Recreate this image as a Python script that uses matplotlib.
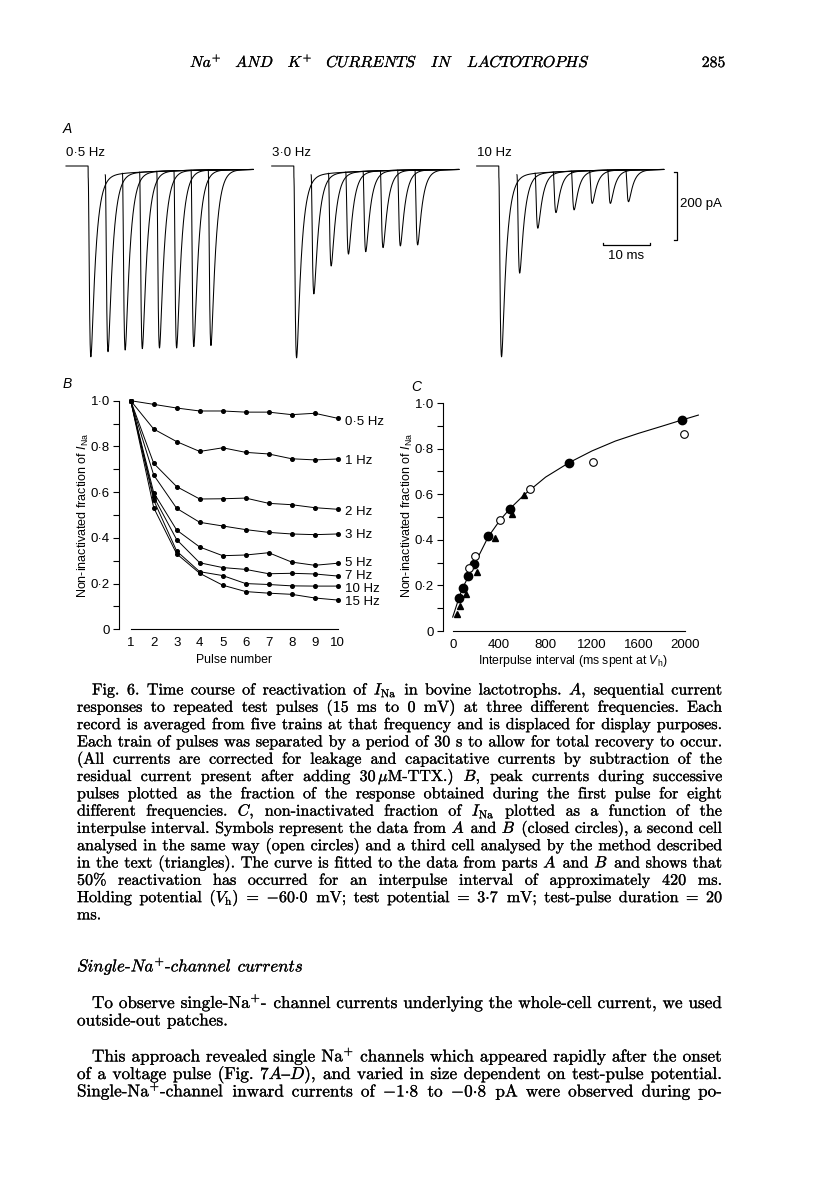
import numpy as np
import matplotlib.pyplot as plt
import matplotlib.patheffects as pe
from matplotlib.ticker import FixedLocator, FixedFormatter, MultipleLocator

W, H = 816, 1200
SANS = ['Liberation Sans', 'DejaVu Sans']
SERIF = ['cmr10', 'DejaVu Serif']

plt.rcParams['font.family'] = SANS
plt.rcParams['mathtext.fontset'] = 'custom'
plt.rcParams['mathtext.rm'] = 'Liberation Sans'
plt.rcParams['mathtext.it'] = 'Liberation Sans:italic'
plt.rcParams['axes.linewidth'] = 0.8

# ---------------- data ----------------
# A: peak inward current of each record (pA), 8 pulses per train
freq_a = ['0·5 Hz', '3·0 Hz', '10 Hz']
peak_05hz = [561, 546, 541, 537, 535, 535, 531, 528]
peak_3hz = [564, 376, 294, 259, 252, 240, 235, 232]
peak_10hz = [561, 315, 183, 137, 129, 110, 110, 105]
record_shift_ms = [3.65, 3.68, 3.86]   # display displacement between records

# B: fraction of first-pulse current
pulse_no = [1, 2, 3, 4, 5, 6, 7, 8, 9, 10]
b_05hz = [1.0, 0.984, 0.968, 0.955, 0.955, 0.950, 0.950, 0.939, 0.945, 0.923]
b_1hz = [1.0, 0.876, 0.821, 0.778, 0.794, 0.774, 0.767, 0.746, 0.741, 0.745]
b_2hz = [1.0, 0.726, 0.624, 0.570, 0.571, 0.574, 0.551, 0.545, 0.532, 0.525]
b_3hz = [1.0, 0.675, 0.529, 0.468, 0.452, 0.436, 0.424, 0.417, 0.414, 0.417]
b_5hz = [1.0, 0.598, 0.434, 0.360, 0.322, 0.325, 0.335, 0.294, 0.280, 0.289]
b_7hz = [1.0, 0.580, 0.392, 0.291, 0.270, 0.262, 0.243, 0.245, 0.242, 0.233]
b_10hz = [1.0, 0.565, 0.342, 0.252, 0.235, 0.200, 0.196, 0.190, 0.189, 0.189]
b_15hz = [1.0, 0.532, 0.330, 0.245, 0.193, 0.165, 0.158, 0.153, 0.137, 0.128]
b_labels = ['0·5 Hz', '1 Hz', '2 Hz', '3 Hz', '5 Hz', '7 Hz', '10 Hz', '15 Hz']

# C: recovery vs interpulse interval
closed_x = [54, 86, 135, 187, 307, 494, 1004, 1971]
closed_y = [0.145, 0.190, 0.240, 0.296, 0.418, 0.537, 0.739, 0.927]
open_x = [138, 195, 407, 663, 1205, 1991]
open_y = [0.277, 0.328, 0.486, 0.624, 0.742, 0.864]
tri_x = [34, 63, 115, 207, 364, 514, 617]
tri_y = [0.074, 0.109, 0.163, 0.260, 0.408, 0.514, 0.598]
fit_x = [0, 54, 86, 135, 187, 307, 407, 494, 617, 800, 1004, 1200, 1400, 1600, 1800, 1971, 2115]
fit_y = [0.061, 0.145, 0.190, 0.238, 0.292, 0.414, 0.486, 0.537, 0.598, 0.675, 0.739,
         0.790, 0.833, 0.867, 0.898, 0.925, 0.947]

# ---------------- text ----------------
header = [r'$\mathit{Na}^{+}$', r'$\mathit{AND}$', r'$\mathit{K}^{+}$',
          r'$\mathit{CURRENTS}$', r'$\mathit{IN}$', r'$\mathit{LACTOTROPHS}$']
caption = [
    r'Fig. 6. Time course of reactivation of $I_{\mathrm{Na}}$ in bovine lactotrophs. $A$, sequential current',
    r'responses to repeated test pulses (15 ms to 0 mV) at three different frequencies. Each',
    r'record is averaged from five trains at that frequency and is displaced for display purposes.',
    r'Each train of pulses was separated by a period of 30 s to allow for total recovery to occur.',
    r'(All currents are corrected for leakage and capacitative currents by subtraction of the',
    r'residual current present after adding 30$\,\mu$M-TTX.) $B$, peak currents during successive',
    r'pulses plotted as the fraction of the response obtained during the first pulse for eight',
    r'different frequencies. $C$, non-inactivated fraction of $I_{\mathrm{Na}}$ plotted as a function of the',
    r'interpulse interval. Symbols represent the data from $A$ and $B$ (closed circles), a second cell',
    r'analysed in the same way (open circles) and a third cell analysed by the method described',
    r'in the text (triangles). The curve is fitted to the data from parts $A$ and $B$ and shows that',
    r'50% reactivation has occurred for an interpulse interval of approximately 420 ms.',
    r'Holding potential ($V_{\mathrm{h}}$) = $-$60$\cdot$0 mV; test potential = 3$\cdot$7 mV; test-pulse duration = 20',
    r'ms.',
]
heading = r'$\mathit{Single}$-$\mathit{Na}^{+}$-$\mathit{channel}$ $\mathit{currents}$'
body = [
    r'To observe single-Na$^{+}$- channel currents underlying the whole-cell current, we used',
    r'outside-out patches.',
    r'This approach revealed single Na$^{+}$ channels which appeared rapidly after the onset',
    r'of a voltage pulse (Fig. 7$A{–}D$), and varied in size dependent on test-pulse potential.',
    r'Single-Na$^{+}$-channel inward currents of $-$1$\cdot$8 to $-$0$\cdot$8 pA were observed during po-',
]

fig = plt.figure(figsize=(W / 100, H / 100), dpi=100)
fig.patch.set_facecolor('white')


def box(x0, y0, x1, y1):
    return [x0 / W, 1 - y1 / H, (x1 - x0) / W, (y1 - y0) / H]


def ftext(x, y, s, **kw):
    return fig.text(x / W, 1 - y / H, s, **kw)


# ---------------- panel A ----------------
PX_MS = 4.7      # pixels per ms
PA_PX = 2.94     # pA per pixel
axA = fig.add_axes(box(60, 120, 700, 370))
axA.set_xlim((60 - 66) / PX_MS, (700 - 66) / PX_MS)
axA.set_ylim(-(370 - 166) * PA_PX, (166 - 120) * PA_PX)
axA.axis('off')

group_start = [0.0, 43.77, 87.38]
first_onset = 4.7
record_end = 39.8
tau_m, tau_h = 0.22, 1.0
t_pk = tau_m * np.log(1 + 3 * tau_h / tau_m)
norm = (1 - np.exp(-t_pk / tau_m)) ** 3 * np.exp(-t_pk / tau_h)


def shape(t):
    return np.where(t > 0, (1 - np.exp(-t / tau_m)) ** 3 * np.exp(-t / tau_h), 0.0) / norm


def tail(t):
    return 9 + 23 * np.exp(-t / 12.0)


for g, peaks in enumerate([peak_05hz, peak_3hz, peak_10hz]):
    t0 = group_start[g]
    on1 = t0 + first_onset
    for k, pk in enumerate(peaks):
        on = on1 + k * record_shift_ms[g]
        amp = pk - tail(on - on1 + t_pk)
        t = np.arange(on, t0 + record_end, 0.02)
        cur = -(amp * shape(t - on) + tail(t - on1))
        if k == 0:
            t = np.concatenate([[t0, on], t])
            cur = np.concatenate([[0.0, 0.0], cur])
        axA.plot(t, cur, color='k', lw=0.75)

# scale bars
xb = (676.7 - 66) / PX_MS
yb0, yb1 = -(171.7 - 166) * PA_PX, -(171.7 - 166) * PA_PX - 200
axA.plot([xb - 0.6, xb, xb, xb - 0.6], [yb0, yb0, yb1, yb1], color='k', lw=0.9)
xh0 = (602.7 - 66) / PX_MS
yh = -(245 - 166) * PA_PX
axA.plot([xh0, xh0, xh0 + 10, xh0 + 10], [yh + 5, yh, yh, yh + 5], color='k', lw=0.9)
ftext(680, 204, '200 pA', fontsize=9.5, va='center')
ftext(626, 256, '10 ms', fontsize=9.5, va='center', ha='center')

ftext(63, 129, 'A', fontsize=10, style='italic', va='center')
for lab, xpx in zip(freq_a, [66, 271.7, 476.7]):
    ftext(xpx, 153, lab, fontsize=9.5, va='center')

# ---------------- panel B ----------------
axB = fig.add_axes(box(119, 400.7, 345, 629.3))
axB.set_xlim(1 - 11.7 / 23, 1 + (345 - 130.7) / 23)
axB.set_ylim(0, 1)
label_y = [0.908, 0.738, 0.515, 0.413, 0.292, 0.235, 0.176, 0.118]
for ser, lab, ly in zip([b_05hz, b_1hz, b_2hz, b_3hz, b_5hz, b_7hz, b_10hz, b_15hz], b_labels, label_y):
    axB.plot(pulse_no, ser, color='k', lw=0.7, marker='o', ms=2.6, clip_on=False)
    axB.text(10.32, ly, lab, fontsize=9.5, va='center', clip_on=False)

# ---------------- panel C ----------------
PX_C = 232.3 / 2000
axC = fig.add_axes(box(443, 403, 720, 631))
axC.set_xlim((443 - 452.7) / PX_C, (720 - 452.7) / PX_C)
axC.set_ylim(0, 1)
axC.plot(fit_x, fit_y, color='k', lw=0.8, clip_on=False)
axC.plot(closed_x, closed_y, 'o', color='k', ms=6, clip_on=False)
axC.plot(open_x, open_y, 'o', mfc='white', mec='k', mew=0.8, ms=5.5, clip_on=False)
axC.plot(tri_x, tri_y, '^', color='k', ms=5, clip_on=False)

ylabels = ['0', '0·2', '0·4', '0·6', '0·8', '1·0']
for ax, xmax, xt in [(axB, 10, pulse_no), (axC, 2000, [0, 400, 800, 1200, 1600, 2000])]:
    for s in ['top', 'right']:
        ax.spines[s].set_visible(False)
    ax.spines['left'].set_bounds(0, 1)
    ax.spines['bottom'].set_bounds(xt[0], xmax)
    ax.yaxis.set_major_locator(FixedLocator([0, 0.2, 0.4, 0.6, 0.8, 1.0]))
    ax.yaxis.set_major_formatter(FixedFormatter(ylabels))
    ax.yaxis.set_minor_locator(MultipleLocator(0.1))
    ax.tick_params(axis='y', which='both', direction='out', length=4, width=0.8,
                   labelsize=9.5, pad=2.5)
    ax.set_xticks(xt)
    ax.set_xticklabels([str(v) for v in xt])
    ax.tick_params(axis='x', length=0, labelsize=9.5, pad=5.5)
    ax.patch.set_visible(False)

ylab = r'Non-inactivated fraction of $I_{\mathrm{Na}}$'
ftext(83, 515, ylab, fontsize=9, rotation=90, va='center', ha='center')
ftext(407, 515, ylab, fontsize=9, rotation=90, va='center', ha='center')
ftext(234, 660, 'Pulse number', fontsize=8.8, ha='center', va='center')
ftext(573, 661, r'Interpulse interval (ms spent at $V_{\mathrm{h}}$)', fontsize=8.8,
      ha='center', va='center')
ftext(63, 384, 'B', fontsize=10, style='italic', va='center')
ftext(411, 387, 'C', fontsize=10, style='italic', va='center')

# ---------------- page text ----------------
renderer = fig.canvas.get_renderer()
# drawing type as outlines keeps glyph widths equal to the measured ones
INK = [pe.withStroke(linewidth=0.18, foreground='k')]


def make_words(words, size):
    objs = [fig.text(0, 0, w, fontsize=size, family=SERIF, math_fontfamily='cm',
                     va='baseline', ha='left', path_effects=INK) for w in words]
    widths = [o.get_window_extent(renderer).width for o in objs]
    return objs, widths


def natural_width(line, size):
    objs, widths = make_words(line.split(' '), size)
    for o in objs:
        o.remove()
    return sum(widths) + 0.33 * size * 100 / 72 * (len(widths) - 1)


def set_line(line, x0, x1, ybase, size, justify=True):
    words = line.split(' ')
    objs, widths = make_words(words, size)
    gap = 0.33 * size * 100 / 72
    if justify and len(words) > 1:
        gap = (x1 - x0 - sum(widths)) / (len(words) - 1)
    x = x0
    for o, w in zip(objs, widths):
        o.set_position((x / W, 1 - ybase / H))
        x += w + gap


def fit_size(lines, spans, size=10.0):
    # measure at the trial size and rescale until the widest line just fits
    for _ in range(2):
        ratio = max(natural_width(ln, size) / sp for ln, sp in zip(lines, spans))
        size = size / ratio * 0.997
    return size


# header
hsize = fit_size([' '.join(header)], [400 * 0.9])
set_line(' '.join(header), 190, 590, 67, hsize)
ftext(725, 67, '285', fontsize=hsize, family=SERIF, ha='right', va='baseline',
      path_effects=INK)

# caption
LEFT, RIGHT, INDENT = 77, 722, 92
cap_just = caption[:-1]
spans = [RIGHT - (INDENT if i == 0 else LEFT) for i in range(len(cap_just))]
csize = fit_size(cap_just, spans)
for i, ln in enumerate(caption):
    x0 = INDENT if i == 0 else LEFT
    set_line(ln, x0, RIGHT, 694.5 + 17.3 * i, csize, justify=(i < len(caption) - 1))

# body
body_just = [body[0], body[2], body[3], body[4]]
bspans = [RIGHT - INDENT, RIGHT - INDENT, RIGHT - LEFT, RIGHT - LEFT]
bsize = fit_size(body_just, bspans)
set_line(heading, LEFT, RIGHT, 971.5, bsize, justify=False)
body_x = [INDENT, LEFT, INDENT, LEFT, LEFT]
body_y = [1008, 1025.5, 1061.5, 1079, 1096.5]
body_j = [True, False, True, True, True]
for ln, x0, yb, j in zip(body, body_x, body_y, body_j):
    set_line(ln, x0, RIGHT, yb, bsize, justify=j)

fig.savefig('out.png', dpi=100, facecolor='white')
